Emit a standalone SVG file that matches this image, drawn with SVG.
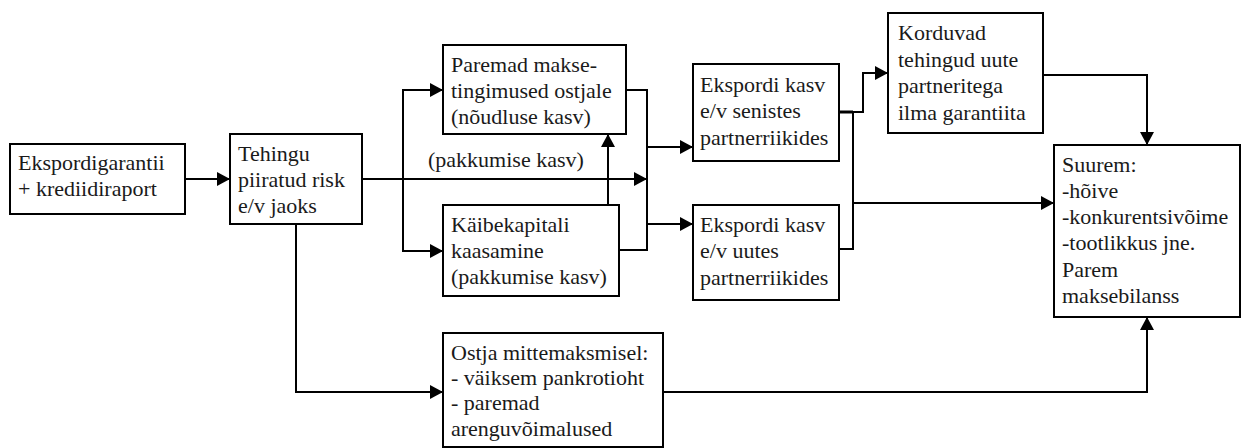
<svg xmlns="http://www.w3.org/2000/svg" width="1242" height="448" viewBox="0 0 1242 448">
<style>
rect.box{fill:#fff;stroke:#000;stroke-width:2}
.c line,.c polyline{fill:none;stroke:#000;stroke-width:2}
</style>
<defs>
<marker id="ah" markerUnits="userSpaceOnUse" markerWidth="14" markerHeight="14" refX="13" refY="7" orient="auto">
<path d="M0,0 L13,7 L0,14 z" fill="#000"/>
</marker>
</defs>
<rect width="1242" height="448" fill="#fff"/>
<g font-family="Liberation Serif, serif" font-size="22" fill="#1a1a1a">
<g class="c" id="connectors">
<line x1="185" y1="179" x2="230" y2="179" marker-end="url(#ah)"/>
<line x1="362" y1="179" x2="647" y2="179" marker-end="url(#ah)"/>
<polyline points="443,90 403,90 403,251 443,251"/>
<line x1="404" y1="90" x2="443" y2="90" marker-end="url(#ah)"/>
<line x1="404" y1="251" x2="443" y2="251" marker-end="url(#ah)"/>
<polyline points="626,90 647,90 647,250 619,250"/>
<line x1="647" y1="147" x2="693" y2="147" marker-end="url(#ah)"/>
<line x1="647" y1="224" x2="693" y2="224" marker-end="url(#ah)"/>
<line x1="608" y1="205" x2="608" y2="134" marker-end="url(#ah)"/>
<polyline points="839,112 863,112 863,73 888,73" marker-end="url(#ah)"/>
<line x1="839" y1="112" x2="853" y2="112" style="stroke-width:3"/>
<polyline points="853,112 853,249 839,249"/>
<line x1="853" y1="203" x2="1054" y2="203" marker-end="url(#ah)"/>
<polyline points="1043,75 1147,75 1147,145" marker-end="url(#ah)"/>
<polyline points="296,224 296,392 443,392" marker-end="url(#ah)"/>
<polyline points="663,392 1147,392 1147,317" marker-end="url(#ah)"/>
<text x="428" y="167">(pakkumise kasv)</text>
</g>
<g id="n1">
<rect class="box" x="10" y="144" width="175" height="70"/>
<text x="18" y="170">Ekspordigarantii</text>
<text x="18" y="196">+ krediidiraport</text>
</g>
<g id="n2">
<rect class="box" x="230" y="134" width="132" height="90"/>
<text x="238" y="161">Tehingu</text>
<text x="238" y="187">piiratud risk</text>
<text x="238" y="213">e/v jaoks</text>
</g>
<g id="n3">
<rect class="box" x="443" y="45" width="183" height="89"/>
<text x="451" y="72">Paremad makse-</text>
<text x="451" y="98">tingimused ostjale</text>
<text x="451" y="124">(nõudluse kasv)</text>
</g>
<g id="n4">
<rect class="box" x="443" y="205" width="176" height="91"/>
<text x="451" y="232">Käibekapitali</text>
<text x="451" y="258">kaasamine</text>
<text x="451" y="284">(pakkumise kasv)</text>
</g>
<g id="n5">
<rect class="box" x="693" y="64" width="146" height="97"/>
<text x="700" y="92">Ekspordi kasv</text>
<text x="700" y="118">e/v senistes</text>
<text x="700" y="145">partnerriikides</text>
</g>
<g id="n6">
<rect class="box" x="693" y="205" width="146" height="95"/>
<text x="700" y="232">Ekspordi kasv</text>
<text x="700" y="258">e/v uutes</text>
<text x="700" y="285">partnerriikides</text>
</g>
<g id="n7">
<rect class="box" x="888" y="13" width="155" height="120"/>
<text x="898" y="40">Korduvad</text>
<text x="898" y="67">tehingud uute</text>
<text x="898" y="93">partneritega</text>
<text x="898" y="120">ilma garantiita</text>
</g>
<g id="n8">
<rect class="box" x="1054" y="145" width="186" height="172"/>
<text x="1062" y="172">Suurem:</text>
<text x="1062" y="198">-hõive</text>
<text x="1062" y="224">-konkurentsivõime</text>
<text x="1062" y="250">-tootlikkus jne.</text>
<text x="1062" y="277">Parem</text>
<text x="1062" y="303">maksebilanss</text>
</g>
<g id="n9">
<rect class="box" x="443" y="333" width="220" height="114"/>
<text x="451" y="360">Ostja mittemaksmisel:</text>
<text x="451" y="385"> - väiksem pankrotioht</text>
<text x="451" y="410"> - paremad</text>
<text x="451" y="436">arenguvõimalused</text>
</g>
</g>
</svg>
